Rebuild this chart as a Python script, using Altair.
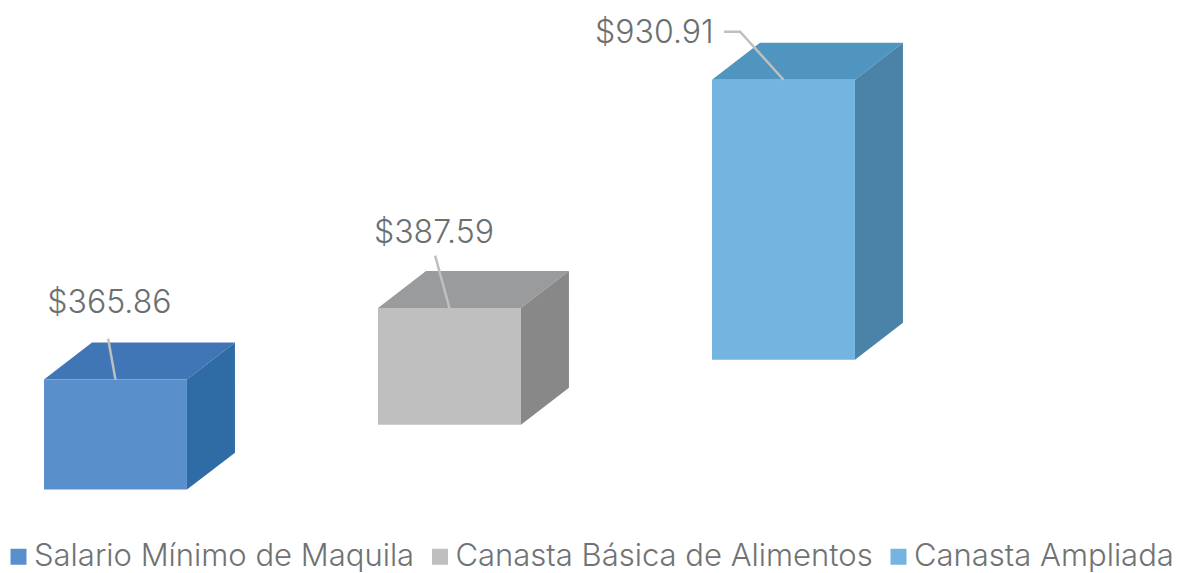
import altair as alt
import pandas as pd

categories = ["Salario Mínimo de Maquila", "Canasta Básica de Alimentos", "Canasta Ampliada"]
values = [365.86, 387.59, 930.91]
labels = ["$365.86", "$387.59", "$930.91"]
floor = [0, 216, 432]
slot = [0, 1, 2]
front_colors = ["#5990CC", "#BFBFBF", "#74B4E0"]
top_colors = ["#4076B6", "#9A9B9D", "#5095BF"]
side_colors = ["#2F6BA5", "#878887", "#4A82A8"]
label_x = [0.010, 0.988, 1.650]
label_y = [622, 855, 1520]
leader_x = [[0.192], [1.171], [2.036, 2.084]]
leader_y = [[502], [778], [1523, 1523]]

BAR_W = 0.428
DEPTH_X = 0.1437
DEPTH_Y = 123

x_scale = alt.Scale(domain=[-0.1078, 3.3802], nice=False, zero=False)
y_scale = alt.Scale(domain=[-277.3, 1601.6], nice=False, zero=False)

front, faces, texts, leaders = [], [], [], []
for i, c in enumerate(categories):
    x0, w, d = slot[i], BAR_W, DEPTH_X
    base = floor[i]
    top = base + values[i]
    front.append(dict(cat=c, x=x0, x2=x0 + w, y=base, y2=top))
    for px, lo, hi in [(x0, top, top), (x0 + d, top, top + DEPTH_Y),
                       (x0 + w, top, top + DEPTH_Y), (x0 + w + d, top + DEPTH_Y, top + DEPTH_Y)]:
        faces.append(dict(face=f"top{i}", fill=top_colors[i], x=px, y=lo, y2=hi))
    for px, lo, hi in [(x0 + w, base, top), (x0 + w + d, base + DEPTH_Y, top + DEPTH_Y)]:
        faces.append(dict(face=f"side{i}", fill=side_colors[i], x=px, y=lo, y2=hi))
    texts.append(dict(x=label_x[i], y=label_y[i], t=labels[i]))
    for k, (lx, ly) in enumerate(zip(leader_x[i], leader_y[i])):
        leaders.append(dict(g=i, o=k, x=lx, y=ly))
    leaders.append(dict(g=i, o=len(leader_x[i]), x=x0 + w / 2, y=top))

X = alt.X("x:Q", scale=x_scale, axis=None)
Y = alt.Y("y:Q", scale=y_scale, axis=None)

FONT = "Inter"

front_layer = alt.Chart(pd.DataFrame(front)).mark_rect().encode(
    x=X, x2="x2:Q", y=Y, y2="y2:Q",
    color=alt.Color("cat:N", sort=categories,
                    scale=alt.Scale(domain=categories, range=front_colors),
                    legend=alt.Legend(
                        title=None, orient="none", legendX=-5, legendY=533, direction="horizontal",
                        columns=3, columnPadding=9.5, padding=0, symbolType="square", symbolSize=256,
                        symbolStrokeWidth=0, labelFont=FONT, labelFontSize=31, labelFontWeight=300,
                        labelColor="#6F7374", labelLimit=0, labelOffset=0)),
)
face_layer = alt.Chart(pd.DataFrame(faces)).mark_area(interpolate="linear", orient="vertical").encode(
    x=X, y=Y, y2="y2:Q", detail="face:N",
    color=alt.Color("fill:N", scale=None),
)
leader_layer = alt.Chart(pd.DataFrame(leaders)).mark_line(color="#BFBFBF", strokeWidth=2.5).encode(
    x=X, y=Y, detail="g:N", order="o:Q",
)
text_layer = alt.Chart(pd.DataFrame(texts)).mark_text(
    align="left", baseline="middle", font=FONT, fontSize=32, fontWeight=300, color="#6B6F70"
).encode(x=X, y=Y, text="t:N")

chart = alt.layer(
    face_layer, front_layer, leader_layer, text_layer
).properties(width=1165, height=565, padding=0, background="#FFFFFF",
             autosize=alt.AutoSizeParams(type="none")).configure_view(stroke=None)

chart.save("out.html", embed_options={"renderer": "svg", "actions": False})
